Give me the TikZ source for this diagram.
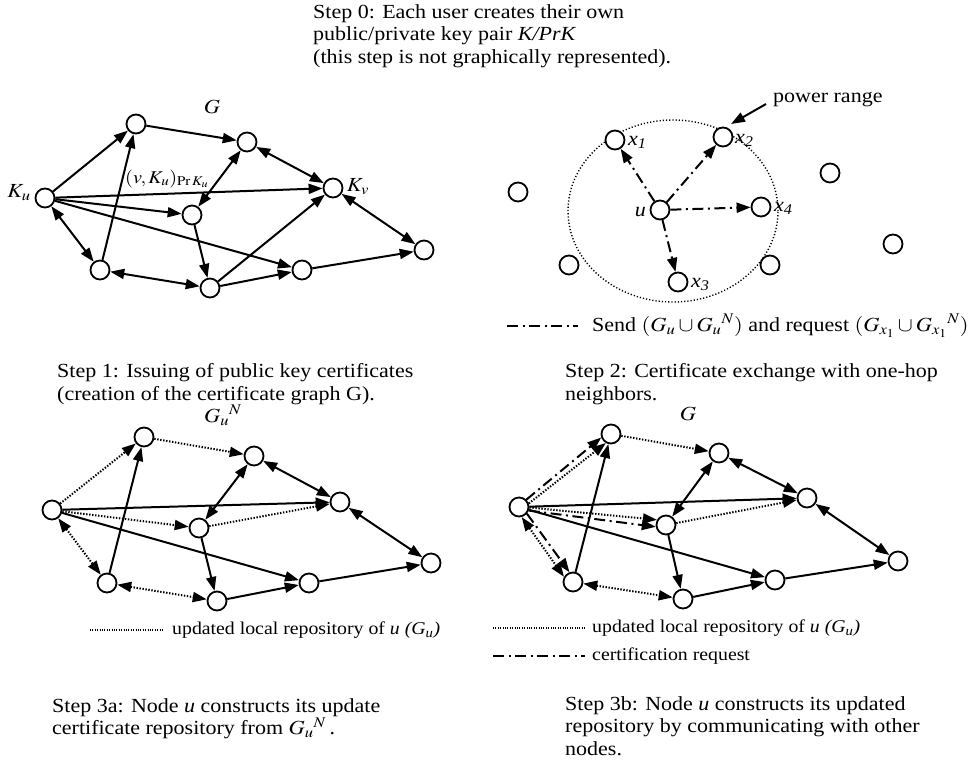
\documentclass[tikz,border=0pt]{standalone}
\usepackage{mathptmx}
\usepackage{fontspec}
\setmainfont{Liberation Serif}[FakeStretch=1.10]
\usetikzlibrary{arrows.meta}
% math set a little wider, like the running text
\newcommand{\widemath}[1]{\scalebox{1.12}[1]{#1}}

\begin{document}
\begin{tikzpicture}[x=1pt,y=-1pt,
  >={Triangle[length=14pt,width=10pt]},
  vtx/.style={circle,draw,line width=1.8pt,fill=white,minimum size=19pt,inner sep=0pt},
  link/.style={line width=2pt,->},
  both/.style={line width=2pt,<->},
  dot/.style={line width=2pt,dash pattern=on 1.4pt off 1.6pt},
  dd/.style={line width=2pt,dash pattern=on 11pt off 4.5pt on 2pt off 4.5pt},
  lbl/.style={inner sep=0pt,font=\fontsize{20}{23}\selectfont},
  keytext/.style={inner sep=0pt,anchor=west,font=\fontsize{18}{21}\selectfont},
  steptext/.style={inner sep=0pt,anchor=north west,align=left,font=\fontsize{20}{22.8}\selectfont},
  radiorange/.style={line width=1.4pt,dash pattern=on 1.2pt off 2pt}
]
\fill[white] (0,0) rectangle (973,761);
\useasboundingbox (0,0) rectangle (973,761);

% ---------- Step 0 text ----------
\node[steptext] (s0) at (313,4) {Step 0: Each user creates their own\\
public/private key pair \textit{K/PrK}\\
(this step is not graphically represented).};

% ---------- Step 1: certificate graph G ----------
\node[vtx] (tu) at (45,198) {};
\node[vtx] (ta) at (136,124) {};
\node[vtx] (tb) at (247,142) {};
\node[vtx] (tv) at (333,188) {};
\node[vtx] (tc) at (192,215) {};
\node[vtx] (td) at (100,270) {};
\node[vtx] (te) at (210,288) {};
\node[vtx] (tf) at (302,270) {};
\node[vtx] (th) at (424,250) {};

\draw[link] (tu) -- (ta);
\draw[link] (ta) -- (tb);
\draw[link] (td) -- (ta);
\draw[both] (tb) -- (tv);
\draw[both] (tc) -- (tb);
\draw[link] (tu) -- (tv);
\draw[link] (tu) -- (tc);
\draw[link] (tu) -- (tf);
\draw[both] (tu) -- (td);
\draw[link] (tc) -- (te);
\draw[both] (td) -- (te);
\draw[link] (te) -- (tv);
\draw[link] (te) -- (tf);
\draw[link] (tf) -- (th);
\draw[both] (tv) -- (th);

\node[lbl] (tg) at (212,107) {\widemath{$G$}};
\node[lbl] (tku) at (19,193) {\widemath{$K_u$}};
\node[lbl] (tkv) at (358,187) {\widemath{$K_v$}};
\node[inner sep=0pt,anchor=base,font=\fontsize{18}{21}\selectfont] (tcert) at (167,183) {\widemath{$(v,K_u)_{\mathrm{Pr}\,K_u}$}};

\node[steptext] (s1) at (57,363) {Step 1: Issuing of public key certificates\\
(creation of the certificate graph G).};

% ---------- Step 2: one-hop exchange ----------
\draw[radiorange] (673,211) ellipse [x radius=105pt, y radius=91pt];
\node[vtx] (su) at (660,210) {};
\node[vtx] (sx1) at (615,140) {};
\node[vtx] (sx2) at (723,137) {};
\node[vtx] (sx3) at (678,282) {};
\node[vtx] (sx4) at (761,207) {};
\node[vtx] (so1) at (518,192) {};
\node[vtx] (so2) at (569,265) {};
\node[vtx] (so3) at (770,265) {};
\node[vtx] (so4) at (830,173) {};
\node[vtx] (so5) at (893,244) {};

\draw[dd,->] (su) -- (sx1);
\draw[dd,->] (su) -- (sx2);
\draw[dd,->] (su) -- (sx3);
\draw[dd,->] (su) -- (sx4);

\node[lbl,anchor=east] (sul) at (646,212) {\textit{u}};
\node[lbl,anchor=west] (sl1) at (628,142) {\textit{x}\textsubscript{\textit{1}}};
\node[lbl,anchor=west] (sl2) at (735,140) {\textit{x}\textsubscript{\textit{2}}};
\node[lbl,anchor=west] (sl3) at (691,284) {\textit{x}\textsubscript{\textit{3}}};
\node[lbl,anchor=west] (sl4) at (774,208) {\textit{x}\textsubscript{\textit{4}}};

\coordinate (prs) at (766,104);
\coordinate (pre) at (731,124);
\draw[line width=2pt,->] (prs) -- (pre);
\node[lbl,anchor=west] (prl) at (773,100) {power range};

\coordinate (k2a) at (507,326);
\coordinate (k2b) at (578,326);
\draw[dd] (k2a) -- (k2b);
\node[lbl,anchor=west] (k2t) at (592,326) {Send \widemath{$({G_u}\cup{G_u}^N)$} and request \widemath{$({G_{x_1}}\cup{G_{x_1}}^N)$}};

\node[steptext] (s2) at (565,363) {Step 2: Certificate exchange with one-hop\\
neighbors.};

% ---------- Step 3a: repository from G_u^N ----------
\node[vtx] (lu) at (52,510) {};
\node[vtx] (la) at (144,437) {};
\node[vtx] (lb) at (254,456) {};
\node[vtx] (lv) at (340,502) {};
\node[vtx] (lc) at (199,528) {};
\node[vtx] (ld) at (107,583) {};
\node[vtx] (le) at (217,601) {};
\node[vtx] (lf) at (309,583) {};
\node[vtx] (lh) at (431,563) {};

\draw[dot,->] (lu) -- (la);
\draw[dot,->] (la) -- (lb);
\draw[link] (ld) -- (la);
\draw[both] (lb) -- (lv);
\draw[both] (lc) -- (lb);
\draw[link] (lu) -- (lv);
\draw[dot,->] (lu) -- (lc);
\draw[dot,->] (lc) -- (lv);
\draw[link] (lu) -- (lf);
\draw[dot,<->] (lu) -- (ld);
\draw[link] (lc) -- (le);
\draw[dot,<->] (ld) -- (le);
\draw[link] (le) -- (lf);
\draw[link] (lf) -- (lh);
\draw[both] (lv) -- (lh);

\node[lbl] (lg) at (223,415) {\widemath{${G_u}^N$}};

\coordinate (k3a) at (90,630);
\coordinate (k3b) at (163,630);
\draw[line width=1.2pt,dash pattern=on 1pt off 1.4pt] (k3a) -- (k3b);
\node[keytext] (k3t) at (172,630) {updated local repository of \textit{u (G\textsubscript{u})}};

\node[steptext] (s3a) at (52,698) {Step 3a: Node \textit{u} constructs its update\\
certificate repository from \widemath{${G_u}^N$}\,.};

% ---------- Step 3b: repository via requests ----------
\node[vtx] (ru) at (519,507) {};
\node[vtx] (ra) at (611,434) {};
\node[vtx] (rb) at (719,453) {};
\node[vtx] (rv) at (807,498) {};
\node[vtx] (rc) at (666,525) {};
\node[vtx] (rd) at (573,582) {};
\node[vtx] (re) at (683,599) {};
\node[vtx] (rf) at (775,580) {};
\node[vtx] (rh) at (898,561) {};

\draw[dot,->] (ru.20) -- (ra.240);
\draw[dd,->] (ru.45) -- (ra.200);
\draw[dot,->] (ra) -- (rb);
\draw[link] (rd) -- (ra);
\draw[both] (rb) -- (rv);
\draw[both] (rc) -- (rb);
\draw[link] (ru) -- (rv);
\draw[dot,->] (ru.-3) -- (rc.150);
\draw[dd,->] (ru.-20) -- (rc.190);
\draw[dot,->] (rc) -- (rv);
\draw[link] (ru) -- (rf);
\draw[dot,<->] (ru.-75) -- (rd.150);
\draw[dd,->] (ru.-40) -- (rd.110);
\draw[link] (rc) -- (re);
\draw[dot,<->] (rd) -- (re);
\draw[link] (re) -- (rf);
\draw[link] (rf) -- (rh);
\draw[both] (rv) -- (rh);

\node[lbl] (rg) at (688,414) {\widemath{$G$}};

\coordinate (k4a) at (493,628);
\coordinate (k4b) at (585,628);
\draw[line width=1.2pt,dash pattern=on 1pt off 1.4pt] (k4a) -- (k4b);
\node[keytext] (k4t) at (592,628) {updated local repository of \textit{u (G\textsubscript{u})}};
\coordinate (k5a) at (493,656);
\coordinate (k5b) at (585,656);
\draw[dd] (k5a) -- (k5b);
\node[keytext] (k5t) at (592,656) {certification request};

\node[steptext] (s3b) at (565,696) {Step 3b: Node \textit{u} constructs its updated\\
repository by communicating with other\\
nodes.};
\end{tikzpicture}
\end{document}
